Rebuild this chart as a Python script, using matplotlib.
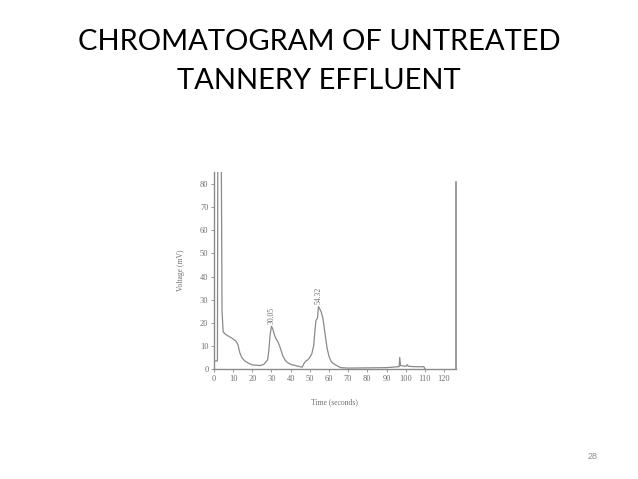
import matplotlib
matplotlib.use("Agg")
import matplotlib.pyplot as plt
import numpy as np

# chromatogram trace
time_s = [0, 1.8, 2.0, 3.8, 4.2, 4.8, 6, 8, 10, 11.5, 12.5, 13.5, 14.5, 16, 18, 20, 24, 26, 27, 28, 28.6,
          29.3, 30, 30.8, 31.6, 32.4, 33.2, 34, 35, 36, 37, 38, 40, 42, 44, 46, 47, 48, 49, 50, 51,
          52, 52.6, 53.2, 54, 54.5, 55.2, 56, 56.8, 57.5, 58.3, 59, 60, 61, 62, 64, 66, 70, 80, 90,
          96.3, 96.6, 96.9, 97.3, 100, 100.8, 101.3, 105, 109.5, 110]
voltage = [3.5, 3.5, 95, 95, 25, 16, 15, 14, 13, 12, 10.5, 7, 5, 3.5, 2.5, 1.8, 1.5, 2, 3, 4, 8,
           15, 18.5, 17, 14.5, 13, 12, 10.5, 8, 5.5, 4, 3, 2, 1.6, 1.2, 0.8, 2.5, 3.5, 4, 5, 6.5,
           10, 16, 21, 22, 27, 26, 24.5, 22, 18, 13, 9, 5.5, 3.5, 2.5, 1.5, 0.6, 0.4, 0.5, 0.6,
           1, 1, 5, 1.5, 1.2, 1.9, 1.2, 1.0, 1.0, 0.2]
peak_times = [30.05, 54.32]
peak_labels = ["30.05", "54.32"]
peak_heights = [18.5, 27]
x_ticks = list(range(0, 121, 10))
y_ticks = list(range(0, 81, 10))

gray = "#8a8a8a"

fig = plt.figure(figsize=(6.38, 4.79), dpi=100)
fig.patch.set_facecolor("white")

fig.text(0.5, 0.872, "CHROMATOGRAM OF UNTREATED\nTANNERY EFFLUENT", ha="center", va="center",
         fontsize=21, family="Lato", color="black", linespacing=1.6)
fig.text(0.928, 0.046, "28", ha="center", va="center", fontsize=6.5, color="#8c8c8c",
         family="Liberation Sans")

ax = fig.add_axes([0.3354, 0.2296, 0.3786, 0.4104])
ax.plot(time_s, voltage, color=gray, lw=0.9)
ax.set_xlim(0, 126)
ax.set_ylim(0, 85)
ax.plot([126, 126], [0, 81], color=gray, lw=1.2, clip_on=False)

for t, lab, h in zip(peak_times, peak_labels, peak_heights):
    ax.text(t, h + 1.0, lab, rotation=90, ha="center", va="bottom", fontsize=5.5,
            family="Liberation Serif", color="#707070")

ax.set_xticks(x_ticks)
ax.set_yticks(y_ticks)
ax.tick_params(direction="out", length=2.5, width=0.6, colors=gray, labelsize=6,
               labelcolor="#707070", pad=1.5)
for lbl in ax.get_xticklabels() + ax.get_yticklabels():
    lbl.set_family("Liberation Serif")
for side in ["top", "right"]:
    ax.spines[side].set_visible(False)
for side in ["left", "bottom"]:
    ax.spines[side].set_color(gray)
    ax.spines[side].set_linewidth(1.0)

ax.set_xlabel("Time (seconds)", fontsize=5.5, family="Liberation Serif", color="#707070", labelpad=11)
ax.set_ylabel("Voltage (mV)", fontsize=5.5, family="Liberation Serif", color="#707070", labelpad=11)

fig.savefig("out.png", dpi=100, facecolor="white")
